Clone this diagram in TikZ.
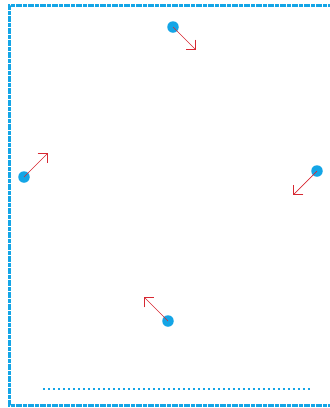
\documentclass[tikz,border=0pt]{standalone}
\usetikzlibrary{arrows.meta}
\definecolor{cblue}{RGB}{20,165,230}
\definecolor{cred}{RGB}{215,40,50}
\tikzset{
  dot/.style={circle,fill=cblue,inner sep=0pt,minimum size=11.5pt},
  vec/.style={draw=cred,line width=0.7pt,-{Straight Barb[length=7pt,width=14pt,line width=0.9pt]}},
  frame/.style={draw=cblue,line width=3pt,dash pattern=on 2pt off 0.4pt},
  floor/.style={draw=cblue,line width=2.2pt,dash pattern=on 2.2pt off 2.8pt}
}
\begin{document}
\begin{tikzpicture}[x=1pt,y=-1pt]
\useasboundingbox (0,0) rectangle (330,408);
\draw[frame] (332,5) -- (9,5) -- (9,405) -- (332,405);
\coordinate (fl) at (43,389);
\coordinate (fr) at (310,389);
\draw[floor] (fl) -- (fr);
\node[dot] (d1) at (173,27) {};
\node[dot] (d2) at (24,177) {};
\node[dot] (d3) at (317,171) {};
\node[dot] (d4) at (168,321) {};
\coordinate (t1) at (196,50);
\coordinate (t2) at (48,153);
\coordinate (t3) at (293,195);
\coordinate (t4) at (144,297);
\draw[vec] (d1.center) -- (t1);
\draw[vec] (d2.center) -- (t2);
\draw[vec] (d3.center) -- (t3);
\draw[vec] (d4.center) -- (t4);
\end{tikzpicture}
\end{document}
